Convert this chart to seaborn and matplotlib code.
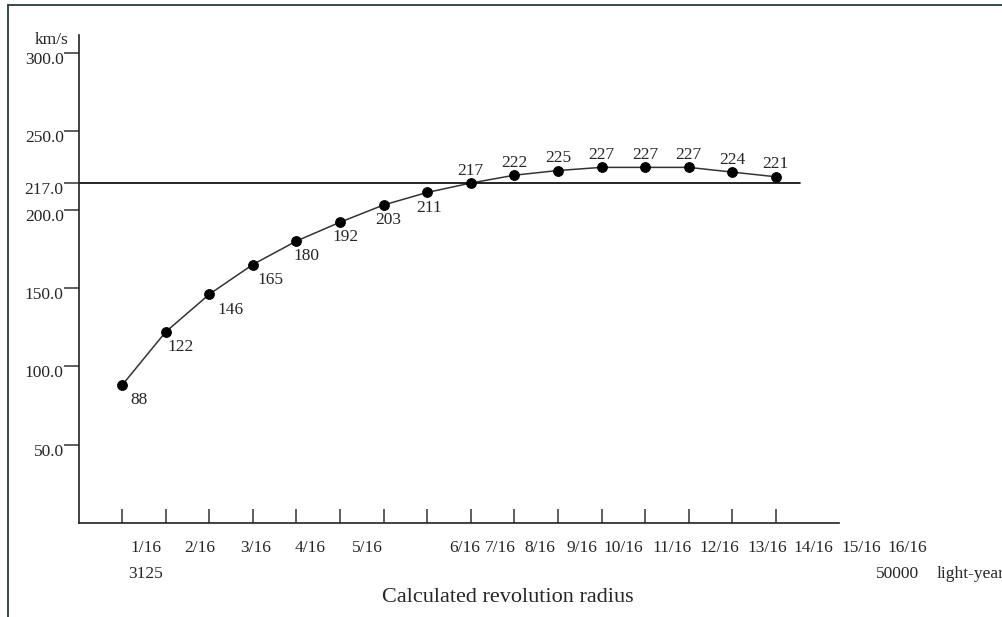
import matplotlib
matplotlib.use("Agg")
import matplotlib.pyplot as plt
import matplotlib.transforms as mtrans
import seaborn as sns
import pandas as pd
from matplotlib.lines import Line2D

# ---- data ----
point_index = list(range(1, 17))
speeds = [88, 122, 146, 165, 180, 192, 203, 211, 217, 222, 225, 227, 227, 227, 224, 221]
reference_speed = 217
y_ticks = [50.0, 100.0, 150.0, 200.0, 217.0, 250.0, 300.0]
radius_labels = ["1/16", "2/16", "3/16", "4/16", "5/16", "6/16", "7/16", "8/16",
                 "9/16", "10/16", "11/16", "12/16", "13/16", "14/16", "15/16", "16/16"]

# ---- layout (pixel positions of free text in the 1003x617 canvas) ----
W, H = 1003, 617
label_px = [146, 200, 256, 310, 367, 465, 500, 540, 582, 623, 672, 719, 767, 813, 861, 907]
FS = 12.5

sns.set_style("white")
plt.rcParams["font.family"] = ["Liberation Serif", "DejaVu Serif"]

fig = plt.figure(figsize=(W / 100, H / 100), dpi=100)
ax = fig.add_axes([79 / W, 1 - 523 / H, (839 - 79) / W, (523 - 35) / H])

df = pd.DataFrame({"x": point_index, "v": speeds})
sns.lineplot(data=df, x="x", y="v", ax=ax, color="#333333", linewidth=1.1,
             marker="o", markersize=7, markerfacecolor="black",
             markeredgecolor="black")

ax.set_xlim(0.01, 17.45)
ax.set_ylim(0, 311.5)

# reference line at 217
ax.axhline(reference_speed, xmin=0, xmax=0.949, color="black", linewidth=1.2)

# point labels
for i, (x, v) in enumerate(zip(point_index, speeds)):
    if v < reference_speed:
        dx = [12, 11, 15, 13, 7, 4, 3, 1][i]
        ax.annotate(str(v), (x, v), xytext=(dx, -11), textcoords="offset points",
                    ha="center", va="center", fontsize=FS)
    else:
        ax.annotate(str(v), (x, v), xytext=(0, 9), textcoords="offset points",
                    ha="center", va="center", fontsize=FS)

# axes styling
for s in ["top", "right"]:
    ax.spines[s].set_visible(False)
for s in ["left", "bottom"]:
    ax.spines[s].set_color("#222222")
    ax.spines[s].set_linewidth(1.2)

ax.set_xticks(point_index)
ax.set_xticklabels([])
ax.tick_params(axis="x", direction="in", length=10, width=1.1, color="#333333",
               bottom=True)
ax.set_yticks(y_ticks)
ax.set_yticklabels([f"{t:.1f}" for t in y_ticks], fontsize=FS)
ax.tick_params(axis="y", direction="out", length=11, width=1.1, color="#333333",
               pad=0, left=True)
shift = mtrans.ScaledTranslation(0, -3.5 / 72, fig.dpi_scale_trans)
for lab in ax.get_yticklabels():
    lab.set_transform(lab.get_transform() + shift)
ax.set_xlabel("")
ax.set_ylabel("")

# bottom radius labels
for lab, px in zip(radius_labels, label_px):
    fig.text(px / W, 1 - 548 / H, lab, ha="center", va="center", fontsize=FS)
fig.text(146 / W, 1 - 574 / H, "3125", ha="center", va="center", fontsize=FS)
fig.text(898 / W, 1 - 574 / H, "50000", ha="center", va="center", fontsize=FS)
fig.text(937 / W, 1 - 574 / H, "light-year", ha="left", va="center", fontsize=FS)
fig.text(52 / W, 1 - 40 / H, "km/s", ha="center", va="center", fontsize=FS)
fig.text(508 / W, 1 - 597 / H, "Calculated revolution radius", ha="center",
         va="center", fontsize=16)

# image frame (left and top edges)
fig.add_artist(Line2D([8 / W, 8 / W], [0, 1 - 5 / H], transform=fig.transFigure,
                      color="#2a3a3a", linewidth=1.3))
fig.add_artist(Line2D([8 / W, 1], [1 - 5 / H, 1 - 5 / H], transform=fig.transFigure,
                      color="#2a3a3a", linewidth=1.3))

fig.savefig("out.png", dpi=100)
